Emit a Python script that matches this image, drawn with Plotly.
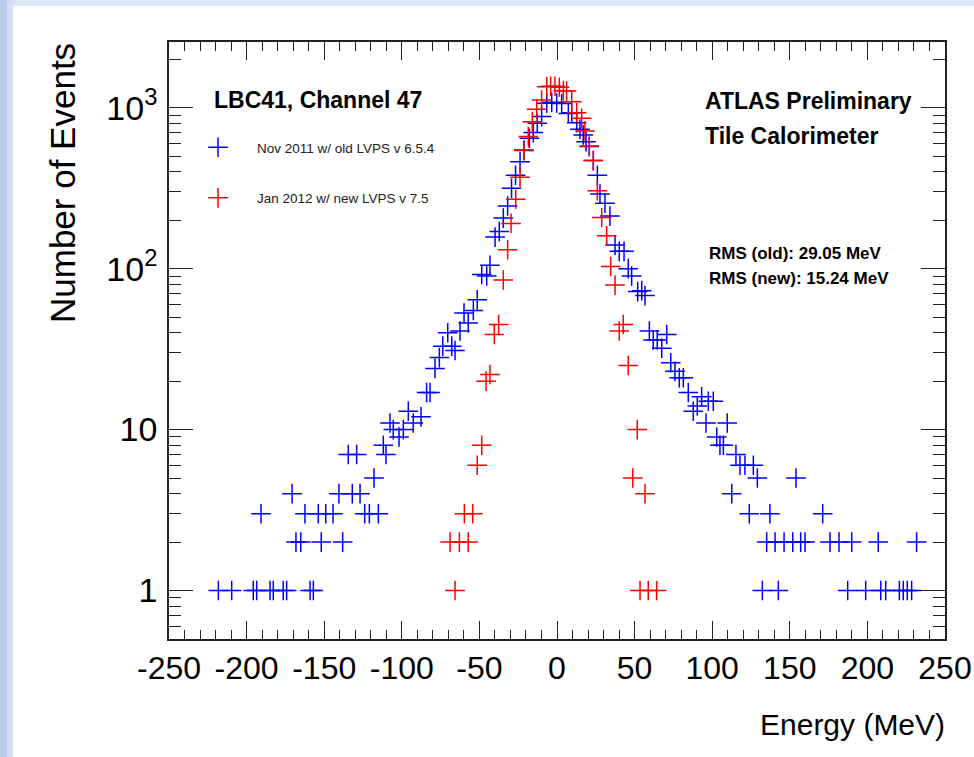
import plotly.graph_objects as go

# ---------------- data ----------------
old_energy = [-218.2, -209.6, -195.7, -193.5, -190.7, -184.9, -182.8, -176.4, -174.2, -170.7,
              -168.2, -165.1, -162.4, -159.1, -157.0, -153.8, -151.9, -149.0, -144.3, -140.5,
              -138.1, -134.5, -131.9, -129.1, -126.9, -123.9, -120.9, -117.9, -115.1, -111.9,
              -110.2, -107.6, -105.5, -101.8, -99.0, -95.8, -92.6, -87.6, -84.0, -81.8,
              -78.6, -75.8, -73.6, -70.4, -67.8, -65.7, -62.5, -59.9, -57.2, -53.9,
              -51.4, -48.5, -45.3, -43.2, -39.9, -37.2, -34.6, -31.8, -29.3, -26.7,
              -23.8, -21.3, -17.8, -15.3, -12.7, -9.9, -6.6, -3.4, -0.2, 3.0,
              7.3, 9.5, 12.7, 14.8, 16.9, 18.7, 20.8, 23.4, 26.0, 27.7,
              30.9, 34.1, 37.4, 40.1, 43.2, 45.9, 48.1, 52.0, 54.6, 56.7,
              59.5, 62.0, 64.6, 67.5, 70.7, 73.3, 76.0, 78.8, 81.4, 84.6,
              87.8, 90.4, 93.2, 96.0, 97.5, 100.7, 102.9, 105.0, 107.2, 109.7,
              112.6, 115.3, 117.9, 121.1, 123.9, 126.5, 129.1, 132.3, 135.1, 137.2,
              140.5, 142.6, 146.3, 151.9, 154.0, 157.0, 159.8, 171.2, 175.9, 181.7,
              187.3, 189.9, 198.9, 207.0, 208.6, 211.8, 220.6, 223.1, 225.7, 228.5,
              231.7]
old_counts = [1, 1, 1, 1, 3, 1, 1, 1, 1, 4,
              2, 2, 3, 1, 1, 3, 2, 3, 3, 4,
              2, 7, 4, 7, 4, 3, 3, 5, 3, 8,
              7, 11, 10, 9, 10, 13, 11, 12, 17, 17,
              24, 28, 33, 40, 33, 31, 41, 53, 46, 55,
              64, 92, 90, 105, 157, 170, 206, 245, 316, 380,
              462, 546, 646, 700, 800, 880, 1065, 1080, 1070, 1060,
              920, 930, 807, 735, 676, 615, 573, 469, 380, 291,
              255, 212, 140, 128, 128, 100, 90, 72, 73, 68,
              41, 36, 36, 32, 39, 26, 23, 21, 21, 17,
              13, 14, 16, 11, 15, 15, 9, 8, 8, 11,
              4, 7, 6, 6, 3, 6, 5, 1, 2, 3,
              2, 1, 2, 2, 5, 2, 2, 3, 2, 2,
              1, 2, 1, 2, 1, 1, 1, 1, 1, 1,
              2]

new_energy = [-68.9, -65.7, -62.9, -59.7, -57.2, -54.3, -51.4, -48.5, -45.7, -43.2,
              -40.4, -37.6, -34.6, -31.8, -29.6, -26.6, -23.8, -21.3, -18.5, -15.9,
              -13.1, -9.9, -6.6, -4.1, -1.3, 1.5, 4.1, 6.2, 9.5, 12.7,
              15.9, 18.0, 20.8, 23.4, 26.0, 28.8, 32.0, 34.6, 37.4, 40.1,
              42.7, 45.9, 48.8, 51.7, 53.5, 56.7, 58.8, 64.2]
new_counts = [2, 1, 2, 3, 2, 3, 6, 8, 20, 22,
              39, 45, 85, 131, 191, 270, 370, 541, 661, 819,
              977, 1116, 1350, 1360, 1360, 1340, 1276, 1270, 1089, 931,
              860, 716, 578, 469, 305, 208, 160, 103, 79, 41,
              45, 25, 5, 10, 1, 4, 1, 1]

series_names = ["Nov 2011 w/ old LVPS v 6.5.4", "Jan 2012 w/ new LVPS v 7.5"]
x_tick_values = [-250, -200, -150, -100, -50, 0, 50, 100, 150, 200, 250]
x_tick_labels = ["-250", "-200", "-150", "-100", "-50", "0", "50", "100", "150", "200", "250"]
y_tick_values = [1, 10, 100, 1000]
y_tick_labels = ["1", "10", "10<sup>2</sup>", "10<sup>3</sup>"]

# minor tick positions (axis furniture)
x_minor_values = [v for v in range(-240, 250, 10) if v % 50 != 0]
y_minor_values = [m * 10 ** e for e in range(-1, 4) for m in range(2, 10)
                  if 0.5 <= m * 10 ** e <= 2500]

# ---------------- layout geometry ----------------
W, H = 974, 757
L, R, T, B = 169, 945, 42, 639
FONT = "Liberation Sans, Arial, Helvetica, sans-serif"
INK = "#222222"


def xp(px):
    return (px - L) / (R - L)


def yp(py):
    return (B - py) / (B - T)


fig = go.Figure()
for name, xs, ys, col, grp in [
    (series_names[0], old_energy, old_counts, "#0000ff", "old"),
    (series_names[1], new_energy, new_counts, "#ff0000", "new"),
]:
    fig.add_trace(go.Scatter(
        x=xs, y=ys, mode="markers", name=name, legendgroup=grp,
        marker=dict(symbol="cross-thin", size=14, color=col,
                    line=dict(color=col, width=1.5)),
    ))

axis_common = dict(
    showgrid=False, zeroline=False, showline=True, linecolor=INK,
    linewidth=1.6, mirror="allticks", ticks="inside", tickcolor=INK,
    tickwidth=1.3, automargin=False,
)

fig.update_xaxes(
    range=[-250, 250], tickmode="array", tickvals=x_tick_values, ticktext=x_tick_labels,
    ticklen=18, tickfont=dict(family=FONT, size=32, color="black"),
    minor=dict(tickmode="array", tickvals=x_minor_values, ticks="inside", ticklen=9,
               tickcolor=INK, tickwidth=1.3, showgrid=False),
    **axis_common,
)
fig.update_yaxes(
    type="log", range=[-0.301, 3.408], tickmode="array", tickvals=y_tick_values,
    ticktext=y_tick_labels, ticklen=24, ticklabelstandoff=3,
    tickfont=dict(family=FONT, size=34, color="black"),
    minor=dict(tickmode="array", tickvals=y_minor_values, ticks="inside", ticklen=12,
               tickcolor=INK, tickwidth=1.3, showgrid=False),
    **axis_common,
)


def note(text, px, py, size, xanchor="left", bold=False, angle=0, yanchor="middle"):
    return dict(text=("<b>%s</b>" % text) if bold else text,
                xref="paper", yref="paper", x=xp(px), y=yp(py),
                xanchor=xanchor, yanchor=yanchor, textangle=angle,
                font=dict(family=FONT, size=size, color="black"), showarrow=False)


annotations = [
    note("LBC41, Channel 47", 212, 100, 23, bold=True),
    note("ATLAS Preliminary", 703, 101, 23, bold=True),
    note("Tile Calorimeter", 703, 136, 23, bold=True),
    note("RMS (old): 29.05 MeV", 707, 253, 17, bold=True),
    note("RMS (new): 15.24 MeV", 707, 278, 17, bold=True),
    note("Energy (MeV)", 947, 724, 30, xanchor="right"),
    note("Number of Events", 62, 183, 35, xanchor="center", angle=-90),
]

shapes = [
    dict(type="rect", xref="paper", yref="paper", x0=xp(0), x1=xp(974), y0=yp(0), y1=yp(6),
         fillcolor="#dde6f6", line=dict(width=0), layer="below"),
    dict(type="rect", xref="paper", yref="paper", x0=xp(0), x1=xp(7), y0=yp(757), y1=yp(0),
         fillcolor="#bccdee", line=dict(width=0), layer="below"),
    dict(type="rect", xref="paper", yref="paper", x0=xp(7), x1=xp(13), y0=yp(757), y1=yp(0),
         fillcolor="#d3def4", line=dict(width=0), layer="below"),
]

fig.update_layout(
    width=W, height=H,
    margin=dict(l=L, r=W - R, t=T, b=H - B, pad=0),
    paper_bgcolor="white", plot_bgcolor="white",
    font=dict(family=FONT, color="black"),
    showlegend=True,
    legend=dict(x=xp(179), y=yp(132), xanchor="left", yanchor="top",
                bgcolor="rgba(0,0,0,0)", font=dict(family=FONT, size=13.5, color="#222222"),
                tracegroupgap=30, itemwidth=68),
    annotations=annotations,
    shapes=shapes,
)

fig.write_html("out.html", config={"displayModeBar": False},
               post_script="document.body.style.margin='0';document.body.style.overflow='hidden';")
